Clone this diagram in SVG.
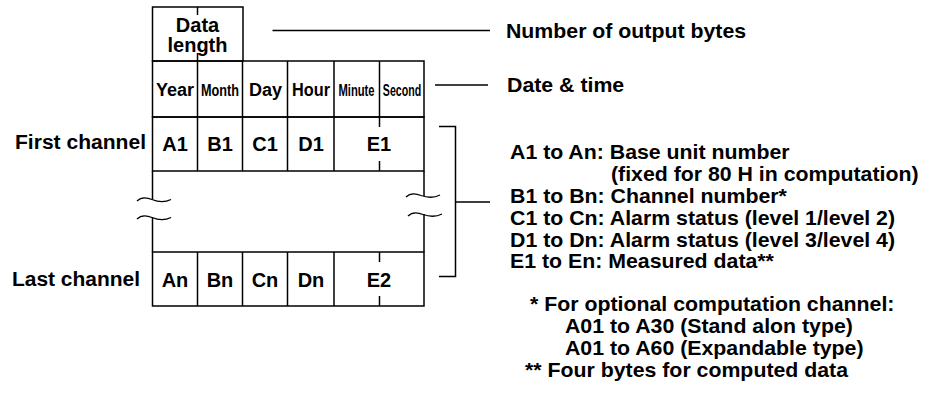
<svg xmlns="http://www.w3.org/2000/svg" width="930" height="404" viewBox="0 0 930 404">
<style>
.ln{stroke:#000;stroke-width:1.5;fill:none}
.wv{stroke:#000;stroke-width:1.3;fill:none}
text{font-family:"Liberation Sans",Arial,sans-serif;font-weight:bold;fill:#000}
.c{font-size:20px;text-anchor:middle}
.h{font-size:18px;text-anchor:middle}
.hs{font-size:17px;text-anchor:middle}
.r{font-size:20px}
</style>
<rect width="930" height="404" fill="#fff"/>
<g id="data-length">
<rect class="ln" x="152.5" y="7" width="90.5" height="54"/>
<path class="ln" d="M197.5,7V15M197.5,53V61"/>
<text class="c" x="197.5" y="31.5">Data</text>
<text class="c" x="197.5" y="52">length</text>
</g>
<g id="header-row">
<rect class="ln" x="152.5" y="61" width="271.5" height="56"/>
<path class="ln" d="M197.5,61V117M242.5,61V117M287.5,61V117M334,61V117M379.5,61V117"/>
<text class="h" x="175" y="96">Year</text>
<text class="hs" transform="translate(220 96) scale(0.745 1)">Month</text>
<text class="h" x="265.5" y="96">Day</text>
<text class="h" transform="translate(311 96) scale(0.905 1)">Hour</text>
<text class="hs" transform="translate(356.5 96) scale(0.66 1)">Minute</text>
<text class="hs" transform="translate(402 96) scale(0.625 1)">Second</text>
</g>
<g id="first-row">
<rect class="ln" x="152.5" y="117" width="271.5" height="54"/>
<path class="ln" d="M197.5,117V171M242.5,117V171M287.5,117V171M334,117V171M379.5,117V127M379.5,161V171"/>
<text class="c" x="175" y="150.5">A1</text>
<text class="c" x="220" y="151">B1</text>
<text class="c" x="265" y="150.5">C1</text>
<text class="c" x="311" y="150.5">D1</text>
<text class="c" x="379" y="150.5">E1</text>
</g>
<g id="gap">
<path class="ln" d="M152.5,171V199M152.5,217V252M424,171V196M424,214V252"/>
<path class="wv" d="M137,201C141,197 146,197 152,199.5C158,202 164,203 171,199.5"/>
<path class="wv" d="M137,219C141,215 146,215 152,217.5C158,220 164,221 171,217.5"/>
<path class="wv" d="M406,197C410,193 415,193 421,195.5C428,198 434,198 440,195"/>
<path class="wv" d="M408,216C412,212 417,212 423,214.5C430,217 436,217 442,214"/>
</g>
<g id="last-row">
<rect class="ln" x="152.5" y="252" width="271.5" height="54"/>
<path class="ln" d="M197.5,252V306M242.5,252V306M287.5,252V306M334,252V306M379.5,252V262M379.5,296V306"/>
<text class="c" x="175" y="286.5">An</text>
<text class="c" x="220" y="286.5">Bn</text>
<text class="c" x="265" y="286.5">Cn</text>
<text class="c" x="311" y="286.5">Dn</text>
<text class="c" x="379" y="286.5">E2</text>
</g>
<g id="row-labels">
<text class="r" x="15" y="149" textLength="131" lengthAdjust="spacingAndGlyphs">First channel</text>
<text class="r" x="12" y="286" textLength="128" lengthAdjust="spacingAndGlyphs">Last channel</text>
</g>
<g id="connectors">
<path class="ln" d="M272.5,30.5H490"/>
<path class="ln" d="M435,85H488"/>
<path class="ln" d="M439,126.5H455.5V276.5H439M455.5,202H490"/>
</g>
<g id="legend" transform="translate(510 0) scale(1.065 1)">
<text class="r" x="-3.8" y="38">Number of output bytes</text>
<text class="r" x="-2.8" y="92">Date &amp; time</text>
<text class="r" x="0" y="159">A1 to An: Base unit number</text>
<text class="r" x="94.8" y="181">(fixed for 80 H in computation)</text>
<text class="r" x="0" y="203">B1 to Bn: Channel number*</text>
<text class="r" x="0" y="225">C1 to Cn: Alarm status (level 1/level 2)</text>
<text class="r" x="0" y="247">D1 to Dn: Alarm status (level 3/level 4)</text>
<text class="r" x="0" y="268.5">E1 to En: Measured data**</text>
<text class="r" x="18.8" y="311">* For optional computation channel:</text>
<text class="r" x="51.6" y="333">A01 to A30 (Stand alon type)</text>
<text class="r" x="51.6" y="355">A01 to A60 (Expandable type)</text>
<text class="r" x="14.1" y="377">** Four bytes for computed data</text>
</g>
</svg>
